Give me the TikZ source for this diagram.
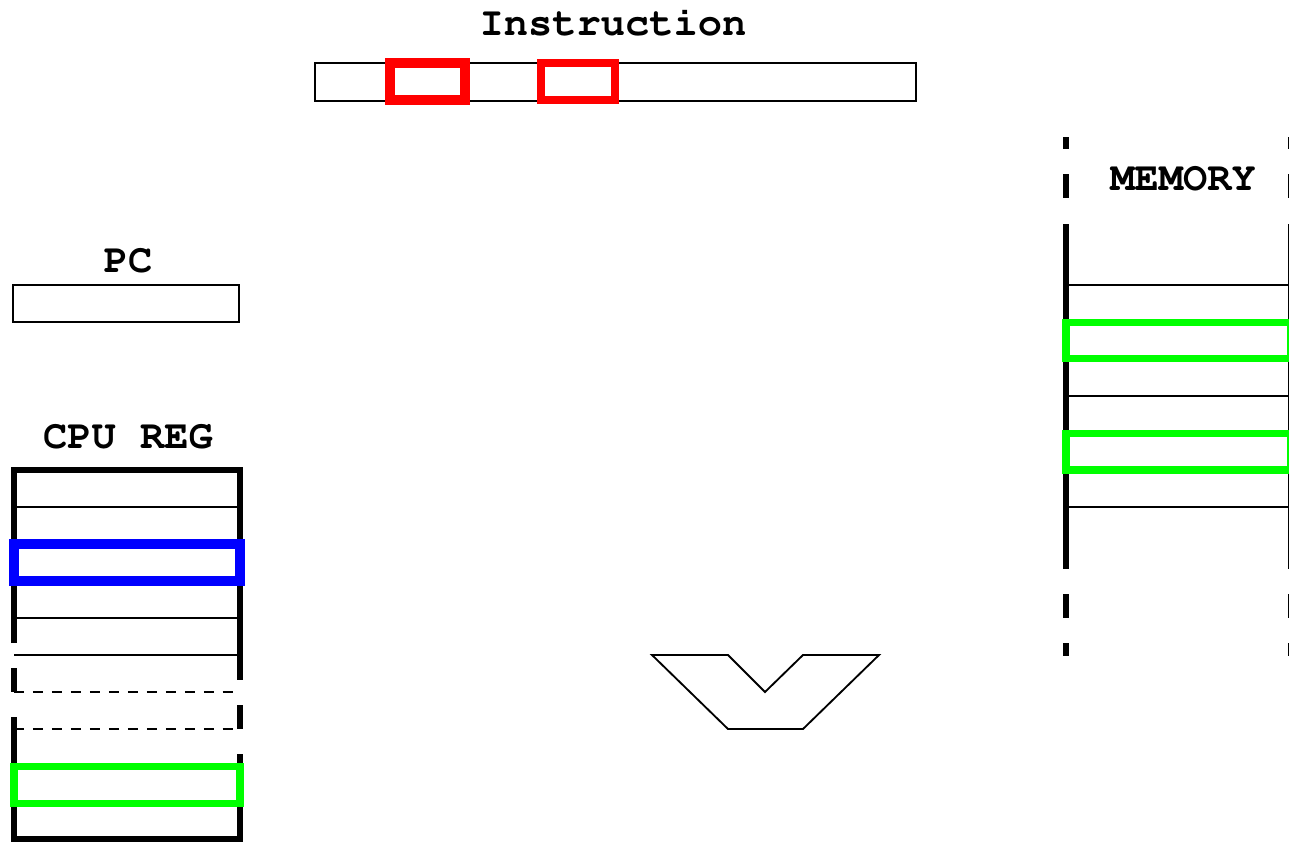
\documentclass[tikz,border=0pt]{standalone}
\usepackage[T1]{fontenc}
\usepackage{tikz}
\usepackage{xcolor}
\definecolor{opred}{RGB}{255,0,0}
\definecolor{regblue}{RGB}{0,0,255}
\definecolor{cellgreen}{RGB}{0,255,0}
\newcommand{\labelfont}{\fontfamily{pcr}\fontseries{b}\fontsize{23}{23}\selectfont}

\begin{document}
\begin{tikzpicture}[x=0.02cm,y=-0.02cm,every node/.style={font=\labelfont,inner sep=0pt},
  thinline/.style={line width=0.6pt},
  boxline/.style={line width=1.05pt},
  wall/.style={line width=3.7pt},
  fatframe/.style={line width=5.7pt},
  slimframe/.style={line width=4pt}]
\useasboundingbox (0,0) rectangle (1289,842);
\node (instrlabel) at (613,22) {Instruction};
\draw[boxline] (315,63) rectangle (916,101);
\draw[opred,fatframe] (390,63) rectangle (465,100);
\draw[opred,slimframe] (541,63) rectangle (615,100);
\node (pclabel) at (128,261) {PC};
\draw[boxline] (13,285) rectangle (239,322);
\node (reglabel) at (128,437) {CPU REG};
\foreach \y in {507,618,655}
  \draw[thinline] (14,\y) -- (240,\y);
\foreach \y in {692,729}
  \draw[thinline,dash pattern=on 5.7pt off 5.1pt] (14,\y) -- (240,\y);
\draw[wall] (14,643) -- (14,470) -- (240,470) -- (240,680);
\draw[wall] (14,668) -- (14,692) (240,705) -- (240,729);
\draw[wall] (14,717) -- (14,839) -- (240,839) -- (240,754);
\draw[regblue,fatframe] (14,544) rectangle (240,581);
\draw[cellgreen,slimframe] (14,766.5) rectangle (240,803.5);
\node (memlabel) at (1183,179) {MEMORY};
\foreach \y in {285,396,507}
  \draw[thinline] (1066,\y) -- (1291,\y);
\foreach \ya/\yb in {137/149,174/198,224/569,594/618,643/656}
  \draw[wall] (1066,\ya) -- (1066,\yb) (1291,\ya) -- (1291,\yb);
\draw[cellgreen,slimframe] (1066,322.5) rectangle (1291,358.5);
\draw[cellgreen,slimframe] (1066,433.5) rectangle (1291,470);
\draw[boxline] (652,655) -- (728,655) -- (765,692) -- (803,655) -- (879,655) -- (803,729) -- (728,729) -- cycle;
\end{tikzpicture}
\end{document}
